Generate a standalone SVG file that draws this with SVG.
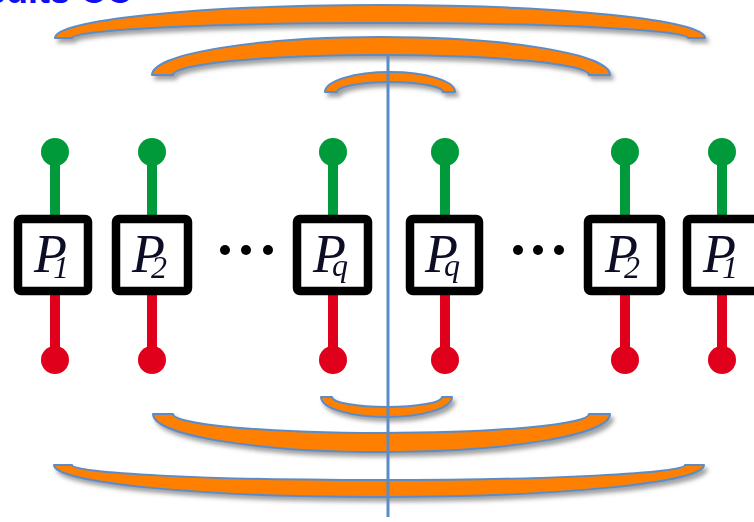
<svg xmlns="http://www.w3.org/2000/svg" width="754" height="522" viewBox="0 0 754 522">
  <defs>
    <filter id="shadow" x="-10%" y="-50%" width="120%" height="220%">
      <feDropShadow dx="3" dy="4" stdDeviation="2" flood-color="#555" flood-opacity="0.55"/>
    </filter>
    <filter id="soft" x="-20%" y="-20%" width="140%" height="140%">
      <feGaussianBlur stdDeviation="0.6"/>
    </filter>
  </defs>
  <style>
    .arc { fill: #ff7f00; stroke: #5b8cc8; stroke-width: 2; stroke-linejoin: round; filter: url(#shadow); }
    .axis { stroke: #5b8cc8; stroke-width: 3; }
    .box { fill: #ffffff; stroke: #000000; stroke-width: 8.5; }
    .g { stroke: #009a3a; stroke-width: 10; }
    .gd { fill: #009a3a; }
    .r { stroke: #e0001a; stroke-width: 10; }
    .rd { fill: #e0001a; }
    .lbl { font-family: "Liberation Serif", "DejaVu Serif", serif; font-style: italic; font-size: 54px; fill: #0c0c28; }
    .sub { font-size: 32px; }
    .dot { fill: #000000; }
    .head { font-family: "Liberation Sans", Arial, sans-serif; font-weight: bold; font-size: 36px; fill: #1010ee; }
  </style>

  <text class="head" x="-14" y="3">cuits CC</text>

  <!-- bracket arcs: outer ellipse over the top, inner ellipse back -->
  <g id="arcs">
    <path class="arc" d="M55,38 A325,33 0 0 1 705,38 L688,38 A308,15 0 0 0 72,38 Z"/>
    <path class="arc" d="M152,75 A229,38 0 0 1 610,75 L589,75 A208,20 0 0 0 173,75 Z"/>
    <path class="arc" d="M325,92 A65,20 0 0 1 455,92 L443,92 A53,10 0 0 0 337,92 Z"/>
    <path class="arc" d="M321,397 A65.5,20 0 0 0 452,397 L442,397 A55,10 0 0 1 332,397 Z"/>
    <path class="arc" d="M153,414 A228.5,38 0 0 0 610,414 L589,414 A208,19 0 0 1 173,414 Z"/>
    <path class="arc" d="M54,465 A325,32 0 0 0 704,465 L685,465 A306,15 0 0 1 72,465 Z"/>
  </g>

  <g id="connectors">
    <line class="axis" x1="388" y1="55" x2="388" y2="517"/>
  </g>

  <!-- one node per site: green top leg, red bottom leg, boxed label -->
  <g id="p1-left" filter="url(#soft)">
    <line class="g" x1="55" y1="152" x2="55" y2="215"/><circle class="gd" cx="55" cy="152" r="14"/>
    <line class="r" x1="55" y1="295" x2="55" y2="360"/><circle class="rd" cx="55" cy="360" r="14"/>
    <rect class="box" x="18" y="219" width="70" height="72" rx="3"/>
    <text class="lbl" x="34" y="272">P<tspan class="sub" dx="-14" dy="6">1</tspan></text>
  </g>
  <g id="p2-left" filter="url(#soft)">
    <line class="g" x1="152" y1="152" x2="152" y2="215"/><circle class="gd" cx="152" cy="152" r="14"/>
    <line class="r" x1="152" y1="295" x2="152" y2="360"/><circle class="rd" cx="152" cy="360" r="14"/>
    <rect class="box" x="116" y="219" width="72" height="72" rx="3"/>
    <text class="lbl" x="132" y="272">P<tspan class="sub" dx="-14" dy="6">2</tspan></text>
  </g>
  <g id="dots-left" filter="url(#soft)">
    <circle class="dot" cx="225" cy="250" r="5"/><circle class="dot" cx="246" cy="250" r="5"/><circle class="dot" cx="268" cy="250" r="5"/>
  </g>
  <g id="pq-left" filter="url(#soft)">
    <line class="g" x1="333" y1="152" x2="333" y2="215"/><circle class="gd" cx="333" cy="152" r="14"/>
    <line class="r" x1="333" y1="295" x2="333" y2="360"/><circle class="rd" cx="333" cy="360" r="14"/>
    <rect class="box" x="297" y="219" width="71" height="72" rx="3"/>
    <text class="lbl" x="313" y="272">P<tspan class="sub" dx="-14" dy="4">q</tspan></text>
  </g>
  <g id="pq-right" filter="url(#soft)">
    <line class="g" x1="445" y1="152" x2="445" y2="215"/><circle class="gd" cx="445" cy="152" r="14"/>
    <line class="r" x1="445" y1="295" x2="445" y2="360"/><circle class="rd" cx="445" cy="360" r="14"/>
    <rect class="box" x="410" y="219" width="69" height="72" rx="3"/>
    <text class="lbl" x="425" y="272">P<tspan class="sub" dx="-14" dy="4">q</tspan></text>
  </g>
  <g id="dots-right" filter="url(#soft)">
    <circle class="dot" cx="518" cy="250" r="5"/><circle class="dot" cx="538" cy="250" r="5"/><circle class="dot" cx="559" cy="250" r="5"/>
  </g>
  <g id="p2-right" filter="url(#soft)">
    <line class="g" x1="625" y1="152" x2="625" y2="215"/><circle class="gd" cx="625" cy="152" r="14"/>
    <line class="r" x1="625" y1="295" x2="625" y2="360"/><circle class="rd" cx="625" cy="360" r="14"/>
    <rect class="box" x="588" y="219" width="73" height="72" rx="3"/>
    <text class="lbl" x="605" y="272">P<tspan class="sub" dx="-14" dy="6">2</tspan></text>
  </g>
  <g id="p1-right" filter="url(#soft)">
    <line class="g" x1="722" y1="152" x2="722" y2="215"/><circle class="gd" cx="722" cy="152" r="14"/>
    <line class="r" x1="722" y1="295" x2="722" y2="360"/><circle class="rd" cx="722" cy="360" r="14"/>
    <rect class="box" x="687" y="219" width="74" height="72" rx="3"/>
    <text class="lbl" x="703" y="272">P<tspan class="sub" dx="-14" dy="6">1</tspan></text>
  </g>
</svg>
